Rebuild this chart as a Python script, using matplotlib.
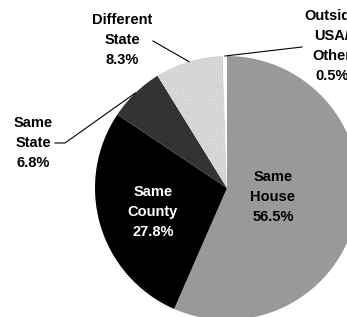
import numpy as np
import matplotlib.pyplot as plt

# Residence one year ago (percent of population)
categories = ['Same\nHouse', 'Same\nCounty', 'Same\nState', 'Different\nState', 'Outside\nUSA/\nOther']
shares = [56.5, 27.8, 6.8, 8.3, 0.5]
colors = ['#999999', '#000000', '#333333', '#f4f4f4', '#ffffff']

W, H = 347, 317
fig = plt.figure(figsize=(W / 100, H / 100), dpi=100)
ax = fig.add_axes([0, 0, 1, 1])

cx, cy, r = 227, H - 188, 132
wedges, _ = ax.pie(shares, colors=colors, startangle=90, counterclock=False,
                   center=(cx, cy), radius=r,
                   wedgeprops=dict(linewidth=0))
wedges[3].set_hatch('xxxxxxxxxx')
wedges[3].set_edgecolor('#d2d2d2')
wedges[3].set_linewidth(0)
plt.rcParams['hatch.linewidth'] = 0.6

ax.set_xlim(0, W)
ax.set_ylim(0, H)
ax.set_aspect('equal')
ax.axis('off')

font = dict(family='Liberation Sans', fontweight='bold', fontsize=10.5,
            ha='center', va='center', linespacing=1.55)

def label(i):
    return f"{categories[i]}\n{shares[i]}%"

# inside labels
ax.text(273, H - 197, label(0), color='black', **font)
ax.text(153, H - 212, label(1), color='white', **font)

# outside labels with leader lines
outside = {2: ((33, H - 143), [(55, H - 143), (65, H - 143)]),
           3: ((122, H - 40), [(153, H - 41)]),
           4: ((332, H - 46), [(302, H - 47)])}
for i, (pos, pts) in outside.items():
    ax.text(pos[0], pos[1], label(i), color='black', **font)
    w = wedges[i]
    mid = np.deg2rad((w.theta1 + w.theta2) / 2)
    end = (cx + r * np.cos(mid), cy + r * np.sin(mid))
    xs = [p[0] for p in pts] + [end[0]]
    ys = [p[1] for p in pts] + [end[1]]
    ax.plot(xs, ys, color='black', linewidth=0.8)

fig.savefig('out.png', dpi=100)
